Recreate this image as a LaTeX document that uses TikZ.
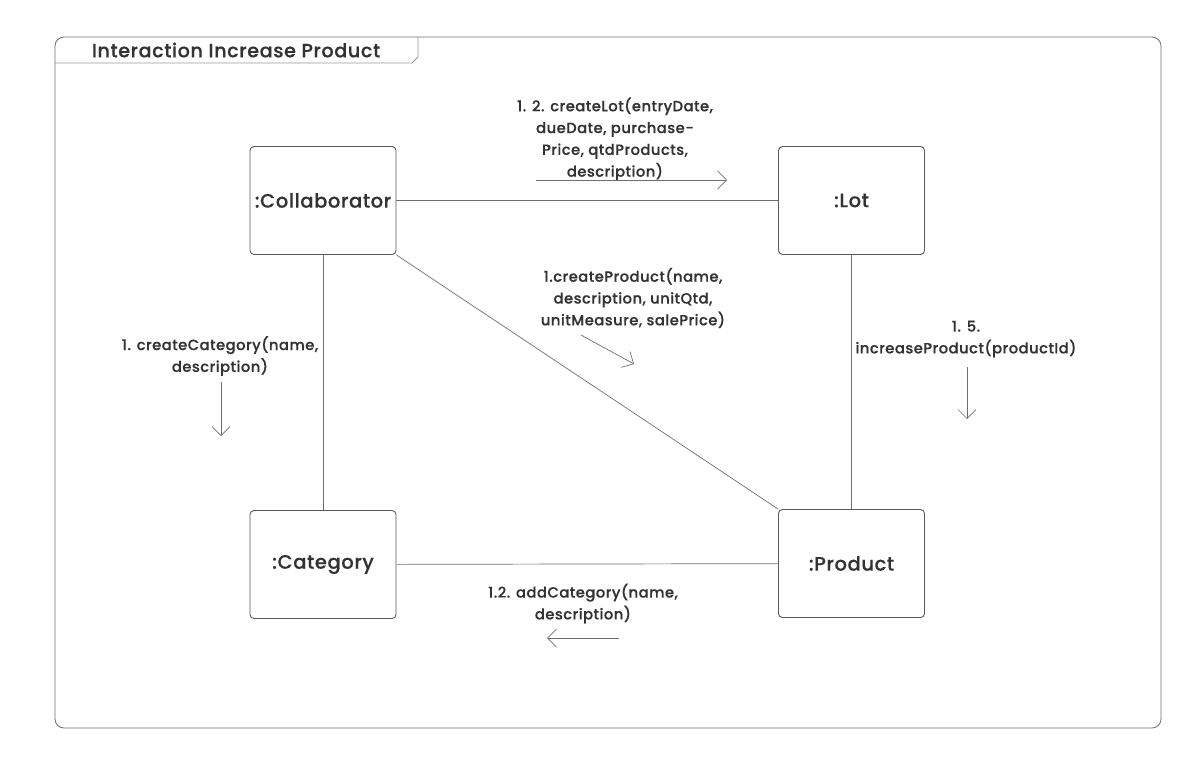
\documentclass[tikz,border=0pt]{standalone}
\usepackage{fontspec}
\setmainfont{Poppins}[UprightFont=* Medium, UprightFeatures={FakeBold=0.3}, LetterSpace=3]
\usetikzlibrary{arrows.meta}
\definecolor{txt}{HTML}{333333}
\definecolor{ln}{HTML}{6E6E6E}
\definecolor{bx}{HTML}{5A5A5A}
\begin{document}
\begin{tikzpicture}[x=1pt,y=-1pt,
  obj/.style={draw=bx,line width=0.9pt,rounded corners=4pt,minimum width=146pt,minimum height=108pt,inner sep=0pt,font=\fontsize{19.5}{22}\selectfont,text=txt},
  assoc/.style={draw=ln,line width=0.7pt},
  msg/.style={draw=ln,line width=0.7pt,-{Straight Barb[length=9pt,width=18pt,line width=0.7pt]}},
  lbl/.style={align=center,font=\fontsize{14.8}{21.8}\selectfont,text=txt,inner sep=0pt}]
\useasboundingbox (0,0) rectangle (1197,766);
% frame
\draw[draw=ln,line width=0.8pt,rounded corners=9pt] (55,37) rectangle (1161,728);
\draw[draw=ln!70,line width=0.8pt] (55,63) -- (412,63) -- (418,57) -- (418,37);
\node[font=\fontsize{19.2}{20}\selectfont,text=txt,inner sep=0pt] (title) at (236,50) {Interaction Increase Product};
% objects
\node[obj] (col) at (323,200.5) {:Collaborator};
\node[obj] (lot) at (851.5,200.5) {:Lot};
\node[obj] (cat) at (323,564.5) {:Category};
\node[obj] (prod) at (851.5,563.5) {:Product};
% associations
\draw[assoc] (col) -- (lot);
\draw[assoc] (col) -- (cat);
\draw[assoc] (lot) -- (prod);
\draw[assoc] (cat) -- (prod);
\draw[assoc] (col.south east) -- (prod.north west);
% messages
\node[lbl] (m1) at (615,139) {1. 2. createLot(entryDate,\\dueDate, purchase-\\Price, qtdProducts,\\description)};
\coordinate (a1s) at (536,180); \coordinate (a1e) at (727,180);
\draw[msg] (a1s) -- (a1e);
\node[lbl] (m2) at (633,298) {1.createProduct(name,\\description, unitQtd,\\unitMeasure, salePrice)};
\coordinate (a2s) at (581,335); \coordinate (a2e) at (634,364);
\draw[msg] (a2s) -- (a2e);
\node[lbl] (m3) at (220,356) {1. createCategory(name,\\description)};
\coordinate (a3s) at (221,382); \coordinate (a3e) at (221,436);
\draw[msg] (a3s) -- (a3e);
\node[lbl] (m4) at (966,339) {1. 5.\\increaseProduct(productId)};
\coordinate (a4s) at (967,367); \coordinate (a4e) at (967,419);
\draw[msg] (a4s) -- (a4e);
\node[lbl] (m5) at (583,603.5) {1.2. addCategory(name,\\description)};
\coordinate (a5s) at (619,638); \coordinate (a5e) at (547,638);
\draw[msg] (a5s) -- (a5e);
\end{tikzpicture}
\end{document}
